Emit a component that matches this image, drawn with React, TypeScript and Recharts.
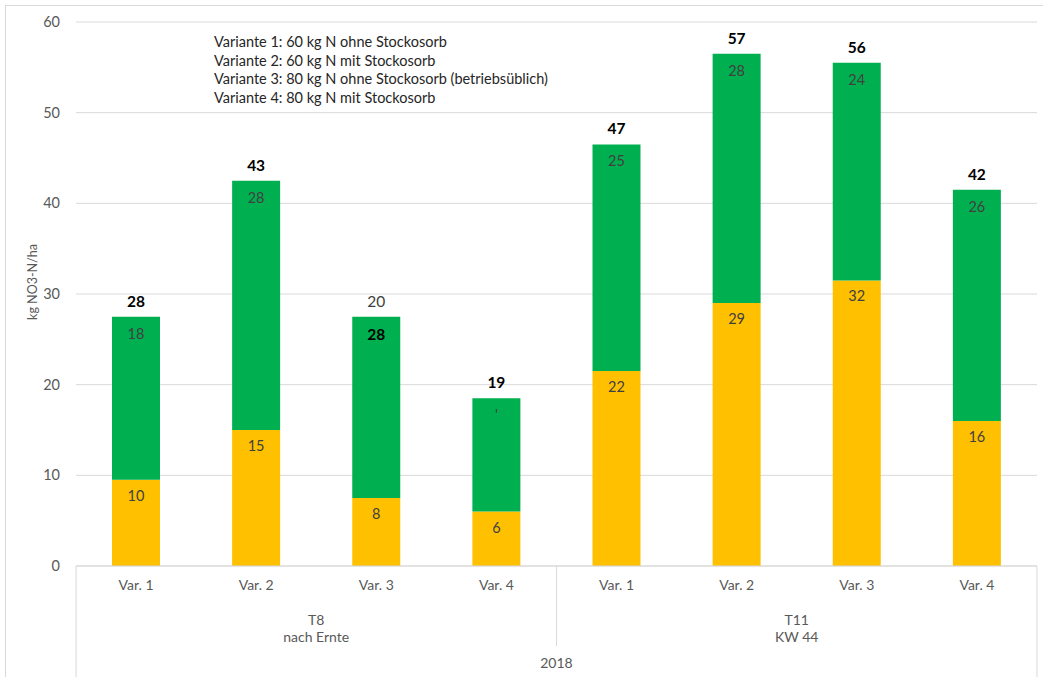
import React from 'react';
import { BarChart, Bar, XAxis, YAxis, CartesianGrid, LabelList } from 'recharts';

const categories = ['Var. 1', 'Var. 2', 'Var. 3', 'Var. 4', 'Var. 1', 'Var. 2', 'Var. 3', 'Var. 4'];
const groupOf = [0, 0, 0, 0, 1, 1, 1, 1];
const groupLabels = [
  ['T8', 'nach Ernte'],
  ['T11', 'KW 44'],
];
const yearLabel = '2018';

// kg NO3-N/ha, lower (yellow) and upper (green) segments
const yellowValues = [9.5, 15, 7.5, 6, 21.5, 29, 31.5, 16];
const greenValues = [18, 27.5, 20, 12.5, 25, 27.5, 24, 25.5];

// Var. 3 (T8) has its total and green labels swapped; Var. 4 (T8) green label shrunk to a dash
const swappedLabels = [false, false, true, false, false, false, false, false];
const shrunkGreenLabel = [false, false, false, true, false, false, false, false];

const yTicks = [0, 10, 20, 30, 40, 50, 60];

const legendLines = [
  'Variante 1: 60 kg N ohne Stockosorb',
  'Variante 2: 60 kg N mit Stockosorb',
  'Variante 3: 80 kg N ohne Stockosorb (betriebsüblich)',
  'Variante 4: 80 kg N mit Stockosorb',
];

const YELLOW = '#FFC000';
const GREEN = '#00B050';
const GRID = '#d9d9d9';
const AXIS_TEXT = '#595959';
const FONT = 'Lato, "Open Sans", sans-serif';

const data = categories.map((name, i) => ({
  id: `${groupOf[i]}-${name}`,
  name,
  yellow: yellowValues[i],
  green: greenValues[i],
}));

const HALF_BAND = 60;

const CategoryTick = (props: any) => {
  const { x, y, payload } = props;
  const i = payload.index;
  const g = groupOf[i];
  const first = i === 0 || groupOf[i - 1] !== g;
  const last = i === categories.length - 1;
  return (
    <g>
      <text x={x} y={y + 24} textAnchor="middle" fill={AXIS_TEXT} fontSize={14} fontFamily={FONT}>
        {categories[i]}
      </text>
      {first && (
        <line
          x1={x - HALF_BAND}
          x2={x - HALF_BAND}
          y1={y}
          y2={i === 0 ? y + 115 : y + 80}
          stroke={GRID}
        />
      )}
      {last && <line x1={x + HALF_BAND} x2={x + HALF_BAND} y1={y} y2={y + 115} stroke={GRID} />}
      {i % 4 === 1 && (
        <text x={x + HALF_BAND} textAnchor="middle" fill={AXIS_TEXT} fontSize={14} fontFamily={FONT}>
          <tspan x={x + HALF_BAND} y={y + 59}>{groupLabels[g][0]}</tspan>
          <tspan x={x + HALF_BAND} y={y + 76}>{groupLabels[g][1]}</tspan>
        </text>
      )}
      {i === 3 && (
        <text x={x + HALF_BAND} y={y + 102} textAnchor="middle" fill={AXIS_TEXT} fontSize={14} fontFamily={FONT}>
          {yearLabel}
        </text>
      )}
    </g>
  );
};

const YellowLabel = (props: any) => {
  const { x, y, width, index } = props;
  return (
    <text x={x + width / 2} y={y + 21} textAnchor="middle" fill="#404040" fontSize={14.5} fontFamily={FONT}>
      {Math.round(yellowValues[index])}
    </text>
  );
};

const GreenLabel = (props: any) => {
  const { x, y, width, index } = props;
  const cx = x + width / 2;
  const greenText = Math.round(greenValues[index]);
  const totalText = Math.round(yellowValues[index] + greenValues[index]);
  if (swappedLabels[index]) {
    return (
      <g>
        <text x={cx} y={y - 10} textAnchor="middle" fill="#404040" fontSize={15.5} fontFamily={FONT}>
          {greenText}
        </text>
        <text x={cx} y={y + 23} textAnchor="middle" fill="#000" fontSize={15.5} fontWeight="bold" fontFamily={FONT}>
          {totalText}
        </text>
      </g>
    );
  }
  return (
    <g>
      <text x={cx} y={y - 10} textAnchor="middle" fill="#000" fontSize={15.5} fontWeight="bold" fontFamily={FONT}>
        {totalText}
      </text>
      <text x={cx} y={y + 22} textAnchor="middle" fill="#404040" fontSize={14.5} fontFamily={FONT}>
        {shrunkGreenLabel[index] ? "'" : greenText}
      </text>
    </g>
  );
};

export default function App() {
  return (
    <div style={{ position: 'fixed', left: 0, top: 0, width: 1043, height: 677, background: '#fff' }}>
      <div
        style={{
          position: 'absolute',
          left: 5,
          top: 5,
          width: 1043,
          height: 680,
          border: `1px solid ${GRID}`,
          boxSizing: 'border-box',
        }}
      />
      <BarChart
        width={1043}
        height={677}
        data={data}
        margin={{ top: 22, right: 6, bottom: 0, left: 0 }}
        barSize={48}
      >
        <CartesianGrid vertical={false} stroke={GRID} />
        <XAxis
          dataKey="id"
          interval={0}
          height={111}
          tickLine={false}
          tickSize={0}
          tickMargin={0}
          stroke={GRID}
          tick={<CategoryTick />}
        />
        <YAxis
          domain={[0, 60]}
          ticks={yTicks}
          width={76}
          axisLine={false}
          tickLine={false}
          tickMargin={10}
          tick={{ fill: AXIS_TEXT, fontSize: 14.5, fontFamily: FONT }}
        />
        <Bar dataKey="yellow" stackId="a" fill={YELLOW} isAnimationActive={false}>
          <LabelList dataKey="yellow" content={<YellowLabel />} />
        </Bar>
        <Bar dataKey="green" stackId="a" fill={GREEN} isAnimationActive={false}>
          <LabelList dataKey="green" content={<GreenLabel />} />
        </Bar>
        <text
          transform="translate(37, 282) rotate(-90)"
          textAnchor="middle"
          fill={AXIS_TEXT}
          fontSize={12.5}
          fontFamily={FONT}
        >
          kg NO3-N/ha
        </text>
        <text fill="#262626" fontSize={14.5} fontFamily={FONT}>
          {legendLines.map((line, k) => (
            <tspan key={k} x={214} y={47 + k * 18.7}>
              {line}
            </tspan>
          ))}
        </text>
      </BarChart>
    </div>
  );
}
